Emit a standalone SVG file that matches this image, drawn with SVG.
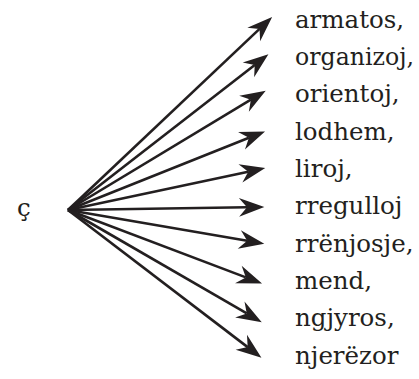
<svg xmlns="http://www.w3.org/2000/svg" width="419" height="379" viewBox="0 0 419 379">
<style>
text{font-family:'DejaVu Serif','Liberation Serif',serif;font-size:24.5px;fill:#231f20}
.c line{stroke:#231f20;stroke-width:2.6;fill:none}
</style>
<defs>
<marker id="ah" markerUnits="userSpaceOnUse" markerWidth="40" markerHeight="40" refX="0" refY="0" viewBox="-10 -10 30 20" orient="auto" overflow="visible">
<path d="M13,0 L-6,-7 L0,0 L-6,7 Z" fill="#231f20"/>
</marker>
</defs>
<rect width="419" height="379" fill="#fff"/>
<g id="src"><text x="17" y="216" font-size="22">ç</text></g>
<g class="c" id="connectors">
<line x1="68" y1="210" x2="259.55" y2="28.93" marker-end="url(#ah)"/>
<line x1="68" y1="210" x2="254.73" y2="64.98" marker-end="url(#ah)"/>
<line x1="68" y1="210" x2="250.87" y2="99.71" marker-end="url(#ah)"/>
<line x1="68" y1="210" x2="248.93" y2="137.82" marker-end="url(#ah)"/>
<line x1="68" y1="210" x2="248.28" y2="171.70" marker-end="url(#ah)"/>
<line x1="68" y1="210" x2="247.0" y2="207.2" marker-end="url(#ah)"/>
<line x1="68" y1="210" x2="247.19" y2="240.80" marker-end="url(#ah)"/>
<line x1="68" y1="210" x2="245.84" y2="277.39" marker-end="url(#ah)"/>
<line x1="68" y1="210" x2="246.75" y2="313.49" marker-end="url(#ah)"/>
<line x1="68" y1="210" x2="247.67" y2="347.11" marker-end="url(#ah)"/>
</g>
<g id="n1"><text x="295" y="28">armatos,</text></g>
<g id="n2"><text x="295" y="65" textLength="119" lengthAdjust="spacingAndGlyphs">organizoj,</text></g>
<g id="n3"><text x="295" y="102">orientoj,</text></g>
<g id="n4"><text x="295" y="140">lodhem,</text></g>
<g id="n5"><text x="295" y="177">liroj,</text></g>
<g id="n6"><text x="295" y="214">rregulloj</text></g>
<g id="n7"><text x="295" y="252">rrënjosje,</text></g>
<g id="n8"><text x="295" y="289">mend,</text></g>
<g id="n9"><text x="295" y="326">ngjyros,</text></g>
<g id="n10"><text x="295" y="364">njerëzor</text></g>
</svg>
